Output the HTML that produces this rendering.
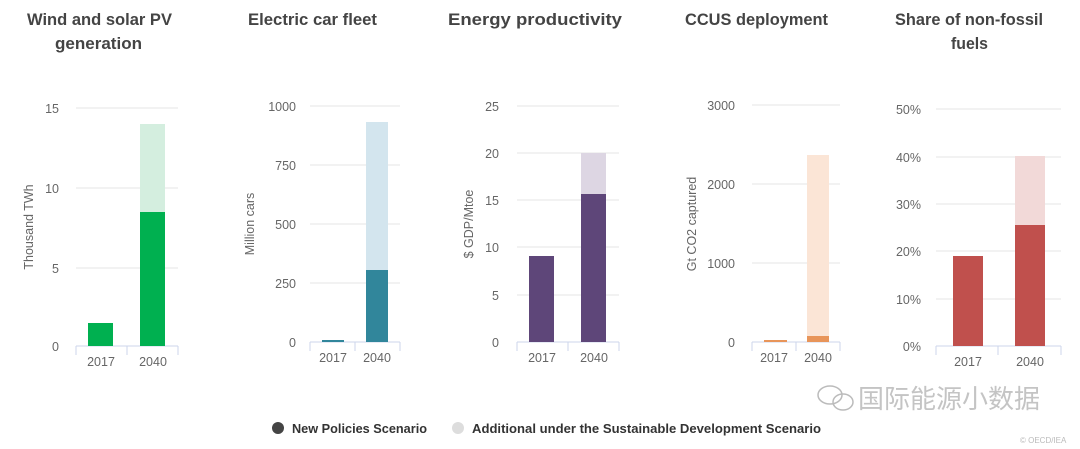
<!DOCTYPE html>
<html><head><meta charset="utf-8"><style>
body{margin:0;background:#fff;width:1080px;height:444px;overflow:hidden}
svg{font-family:"Liberation Sans","Noto Sans CJK SC",sans-serif}
</style></head><body>
<svg width="1080" height="444" viewBox="0 0 1080 444">
<g font-size="16.5" fill="#444" font-weight="bold" text-anchor="middle">
<text x="99.5" y="25" textLength="145" lengthAdjust="spacingAndGlyphs">Wind and solar PV</text><text x="98.5" y="49" textLength="87" lengthAdjust="spacingAndGlyphs">generation</text>
<text x="312.5" y="25" textLength="129" lengthAdjust="spacingAndGlyphs">Electric car fleet</text>
<text x="535" y="25" textLength="174" lengthAdjust="spacingAndGlyphs">Energy productivity</text>
<text x="756.5" y="25" textLength="143" lengthAdjust="spacingAndGlyphs">CCUS deployment</text>
<text x="969" y="25" textLength="148" lengthAdjust="spacingAndGlyphs">Share of non-fossil</text><text x="969.5" y="49" textLength="37" lengthAdjust="spacingAndGlyphs">fuels</text>
</g>
<g stroke="#e6e6e6" stroke-width="1">
<path d="M76 108H178M76 188H178M76 268H178"/>
<path d="M310 106H400M310 165H400M310 224H400M310 283H400"/>
<path d="M517 106H619M517 153H619M517 200H619M517 247H619M517 295H619"/>
<path d="M752 105H840M752 184H840M752 263H840"/>
<path d="M936 109H1061M936 157H1061M936 204H1061M936 251H1061M936 299H1061"/>
</g>
<g stroke="#ccd6eb" stroke-width="1" fill="none">
<path d="M76 346H178M76 346V355M127 346V355M178 346V355"/>
<path d="M310 342H400M310 342V351M355 342V351M400 342V351"/>
<path d="M517 342H619M517 342V351M568 342V351M619 342V351"/>
<path d="M752 342H840M752 342V351M796 342V351M840 342V351"/>
<path d="M936 346H1061M936 346V355M998 346V355M1061 346V355"/>
</g>
<rect x="88" y="323" width="25" height="23" fill="#00b050"/>
<rect x="140" y="124" width="25" height="88" fill="#d4eedf"/>
<rect x="140" y="212" width="25" height="134" fill="#00b050"/>
<rect x="322" y="340" width="22" height="2" fill="#31869b"/>
<rect x="366" y="122" width="22" height="148" fill="#d3e5ee"/>
<rect x="366" y="270" width="22" height="72" fill="#31869b"/>
<rect x="529" y="256" width="25" height="86" fill="#5e4679"/>
<rect x="581" y="153" width="25" height="41" fill="#ddd6e3"/>
<rect x="581" y="194" width="25" height="148" fill="#5e4679"/>
<rect x="764" y="340" width="23" height="2" fill="#e8955a"/>
<rect x="807" y="155" width="22" height="181" fill="#fbe5d6"/>
<rect x="807" y="336" width="22" height="6" fill="#e8955a"/>
<rect x="953" y="256" width="30" height="90" fill="#c0504d"/>
<rect x="1015" y="156" width="30" height="69" fill="#f2d9d8"/>
<rect x="1015" y="225" width="30" height="121" fill="#c0504d"/>
<g font-size="12.5" fill="#666" text-anchor="end">
<text x="59" y="113">15</text><text x="59" y="193">10</text><text x="59" y="273">5</text><text x="59" y="351">0</text>
<text x="296" y="111">1000</text><text x="296" y="170">750</text><text x="296" y="229">500</text><text x="296" y="288">250</text><text x="296" y="347">0</text>
<text x="499" y="111">25</text><text x="499" y="158">20</text><text x="499" y="205">15</text><text x="499" y="252">10</text><text x="499" y="300">5</text><text x="499" y="347">0</text>
<text x="735" y="110">3000</text><text x="735" y="189">2000</text><text x="735" y="268">1000</text><text x="735" y="347">0</text>
<text x="921" y="114">50%</text><text x="921" y="162">40%</text><text x="921" y="209">30%</text><text x="921" y="256">20%</text><text x="921" y="304">10%</text><text x="921" y="351">0%</text>
</g>
<g font-size="12.5" fill="#666" text-anchor="middle">
<text x="101" y="366">2017</text><text x="153" y="366">2040</text>
<text x="333" y="362">2017</text><text x="377" y="362">2040</text>
<text x="542" y="362">2017</text><text x="594" y="362">2040</text>
<text x="774" y="362">2017</text><text x="818" y="362">2040</text>
<text x="968" y="366">2017</text><text x="1030" y="366">2040</text>
</g>
<g font-size="12.5" fill="#666" text-anchor="middle">
<text transform="translate(33 227) rotate(-90)">Thousand TWh</text>
<text transform="translate(254 224) rotate(-90)">Million cars</text>
<text transform="translate(473 224) rotate(-90)">$ GDP/Mtoe</text>
<text transform="translate(696 224) rotate(-90)">Gt CO2 captured</text>
</g>
<circle cx="278" cy="428" r="6" fill="#444"/>
<text x="292" y="433" font-size="12.5" font-weight="bold" fill="#333" textLength="135" lengthAdjust="spacingAndGlyphs">New Policies Scenario</text>
<circle cx="458" cy="428" r="6" fill="#ddd"/>
<text x="472" y="433" font-size="12.5" font-weight="bold" fill="#333" textLength="349" lengthAdjust="spacingAndGlyphs">Additional under the Sustainable Development Scenario</text>
<g fill="none" stroke="#bbb" stroke-width="1.5"><ellipse cx="830" cy="395" rx="12" ry="9"/><ellipse cx="843" cy="402" rx="10" ry="8"/></g>
<text x="858" y="408" font-size="26" fill="#c4c4c4">国际能源小数据</text>
<text x="1020" y="443" font-size="8" fill="#bbb">© OECD/IEA</text>
</svg>
</body></html>
